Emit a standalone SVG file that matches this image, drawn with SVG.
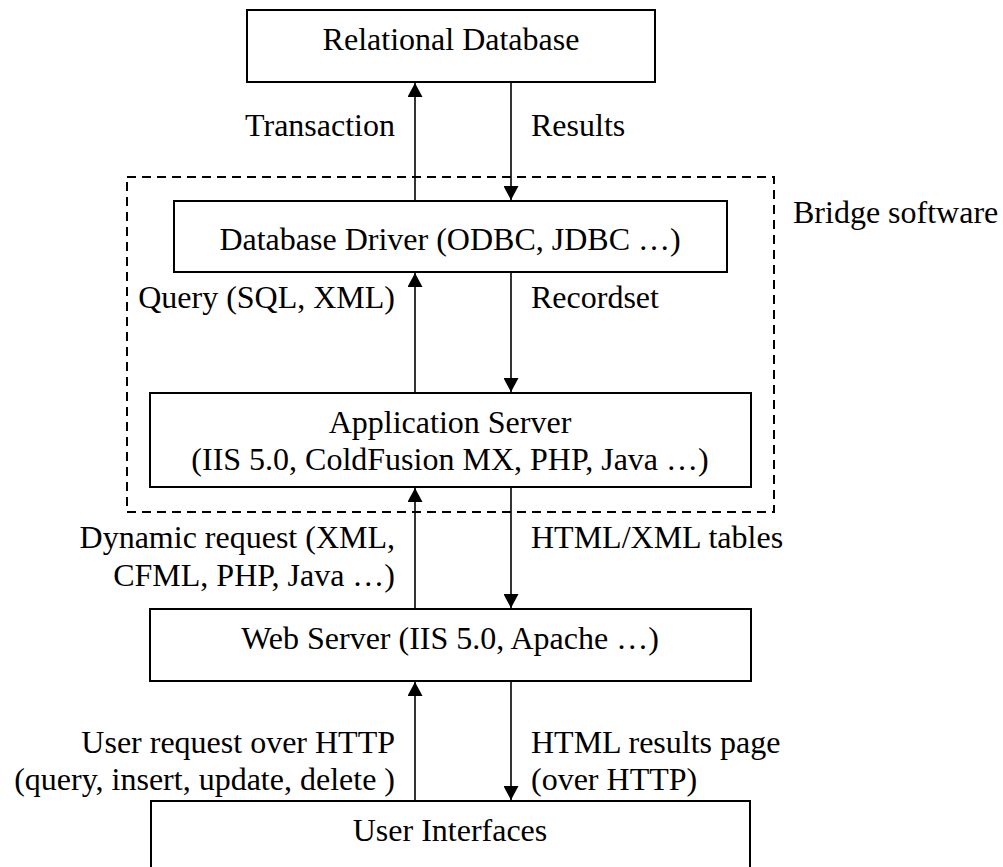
<svg xmlns="http://www.w3.org/2000/svg" width="1003" height="867" viewBox="0 0 1003 867">
<defs>
<marker id="ah" markerUnits="userSpaceOnUse" markerWidth="15" markerHeight="15" viewBox="0 0 14 15" refX="14" refY="7.5" orient="auto">
<path d="M0,0 L14,7.5 L0,15 Z" fill="#000"/>
</marker>
</defs>
<rect width="1003" height="867" fill="#fff"/>
<g id="bridge">
<rect x="127" y="177" width="647" height="335" fill="none" stroke="#000" stroke-width="2" stroke-dasharray="9 6"/>
<text x="793" y="223" font-family="Times New Roman" font-size="32">Bridge software</text>
</g>
<g id="relational-database">
<rect x="247" y="10" width="408" height="72" fill="#fff" stroke="#000" stroke-width="2"/>
<text x="451" y="50" font-family="Times New Roman" font-size="32" text-anchor="middle">Relational Database</text>
</g>
<g id="database-driver">
<rect x="174" y="201" width="553" height="71" fill="#fff" stroke="#000" stroke-width="2"/>
<text x="450" y="250" font-family="Times New Roman" font-size="32" text-anchor="middle">Database Driver (ODBC, JDBC …)</text>
</g>
<g id="application-server">
<rect x="150" y="393" width="601" height="94" fill="#fff" stroke="#000" stroke-width="2"/>
<text x="450" y="433" font-family="Times New Roman" font-size="32" text-anchor="middle">Application Server</text>
<text x="450" y="470" font-family="Times New Roman" font-size="32" text-anchor="middle">(IIS 5.0, ColdFusion MX, PHP, Java …)</text>
</g>
<g id="web-server">
<rect x="150" y="609" width="601" height="72" fill="#fff" stroke="#000" stroke-width="2"/>
<text x="450" y="649" font-family="Times New Roman" font-size="32" text-anchor="middle">Web Server (IIS 5.0, Apache …)</text>
</g>
<g id="user-interfaces">
<rect x="151" y="801" width="599" height="90" fill="#fff" stroke="#000" stroke-width="2"/>
<text x="450" y="841" font-family="Times New Roman" font-size="32" text-anchor="middle">User Interfaces</text>
</g>
<g id="connectors">
<g stroke="#000" stroke-width="1.6" marker-end="url(#ah)">
<line x1="415" y1="201" x2="415" y2="83"/>
<line x1="511" y1="83" x2="511" y2="200"/>
<line x1="415" y1="393" x2="415" y2="273"/>
<line x1="511" y1="273" x2="511" y2="392"/>
<line x1="415" y1="609" x2="415" y2="488"/>
<line x1="511" y1="488" x2="511" y2="608"/>
<line x1="415" y1="801" x2="415" y2="682"/>
<line x1="511" y1="682" x2="511" y2="800"/>
</g>
<text x="395" y="136" font-family="Times New Roman" font-size="32" text-anchor="end">Transaction</text>
<text x="395" y="308" font-family="Times New Roman" font-size="32" text-anchor="end">Query (SQL, XML)</text>
<text x="395" y="548" font-family="Times New Roman" font-size="32" text-anchor="end">Dynamic request (XML,</text>
<text x="395" y="586" font-family="Times New Roman" font-size="32" text-anchor="end">CFML, PHP, Java …)</text>
<text x="395" y="753" font-family="Times New Roman" font-size="32" text-anchor="end">User request over HTTP</text>
<text x="395" y="790" font-family="Times New Roman" font-size="32" text-anchor="end">(query, insert, update, delete )</text>
<text x="531" y="136" font-family="Times New Roman" font-size="32">Results</text>
<text x="531" y="308" font-family="Times New Roman" font-size="32">Recordset</text>
<text x="531" y="548" font-family="Times New Roman" font-size="32">HTML/XML tables</text>
<text x="531" y="753" font-family="Times New Roman" font-size="32">HTML results page</text>
<text x="531" y="790" font-family="Times New Roman" font-size="32">(over HTTP)</text>
</g>
</svg>
